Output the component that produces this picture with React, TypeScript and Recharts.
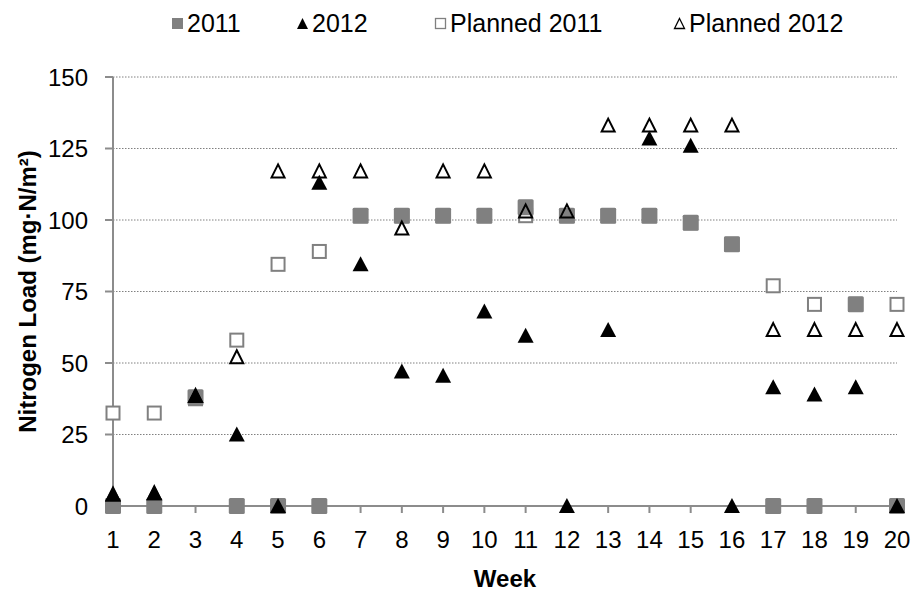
import React from 'react';
import {
  ScatterChart,
  Scatter,
  XAxis,
  YAxis,
  CartesianGrid,
  Label
} from 'recharts';

const WEEKS = [1, 2, 3, 4, 5, 6, 7, 8, 9, 10, 11, 12, 13, 14, 15, 16, 17, 18, 19, 20];
const LOAD_2011 = [0, 0, 38, 0, 0, 0, 101.5, 101.5, 101.5, 101.5, 104.5, 101.5, 101.5, 101.5, 99, 91.5, 0, 0, 70.5, 0];
const LOAD_2012 = [4, 4.5, 38.5, 25, 0, 113, 84.5, 47, 45.5, 68, 59.5, 0, 61.5, 128.5, 126, 0, 41.5, 39, 41.5, 0];
const PLANNED_2011 = [32.5, 32.5, 37.5, 58, 84.5, 89, 101.5, 101.5, 101.5, 101.5, 101.5, 101.5, 101.5, 101.5, 99, 91.5, 77, 70.5, 70.5, 70.5];
const PLANNED_2012 = [4, 4.5, 38.5, 52, 117, 117, 117, 97, 117, 117, 103, 103, 133, 133, 133, 133, 61.5, 61.5, 61.5, 61.5];
const Y_TICKS = [0, 25, 50, 75, 100, 125, 150];

const GRAY = '#808080';
const AXIS = '#8c8c8c';
const FONT = 'Arial, "Liberation Sans", sans-serif';

const toPoints = (vals: number[]) => WEEKS.map((w, i) => ({ week: w, load: vals[i] }));

function FilledSquare({ cx, cy }: any) {
  return <rect x={cx - 8} y={cy - 8} width={16} height={16} rx={1.5} fill={GRAY} />;
}

function HollowSquare({ cx, cy }: any) {
  return <rect x={cx - 6.5} y={cy - 6.5} width={13} height={13} fill="#fff" stroke={GRAY} strokeWidth={2} />;
}

function FilledTriangle({ cx, cy }: any) {
  return <polygon points={`${cx},${cy - 8} ${cx + 8},${cy + 7} ${cx - 8},${cy + 7}`} fill="#000" />;
}

function HollowTriangle({ cx, cy }: any) {
  return (
    <polygon
      points={`${cx},${cy - 7} ${cx + 6.5},${cy + 6} ${cx - 6.5},${cy + 6}`}
      fill="none"
      stroke="#000"
      strokeWidth={2}
    />
  );
}

// legend sits over the chart so it doesn't push the plot area down
const LEGEND_ITEMS = [
  { label: '2011', left: 171, icon: <rect x={1} y={1} width={11} height={11} fill={GRAY} /> },
  { label: '2012', left: 296, icon: <polygon points="6.5,1 12,12 1,12" fill="#000" /> },
  { label: 'Planned 2011', left: 434, icon: <rect x={1.5} y={1.5} width={10} height={10} fill="none" stroke={GRAY} strokeWidth={1.3} /> },
  { label: 'Planned 2012', left: 673, icon: <polygon points="6.5,1.5 11.5,11.5 1.5,11.5" fill="none" stroke="#000" strokeWidth={1.3} /> }
];

function TopLegend() {
  return (
    <div style={{ position: 'absolute', left: 0, top: 0, width: 912, height: 44, fontFamily: FONT }}>
      {LEGEND_ITEMS.map((item) => (
        <div
          key={item.label}
          style={{ position: 'absolute', left: item.left, top: 8, display: 'flex', alignItems: 'center', fontSize: 25, color: '#000', lineHeight: '30px', whiteSpace: 'nowrap' }}
        >
          <svg width={13} height={13} style={{ marginRight: 3 }}>{item.icon}</svg>
          <span>{item.label}</span>
        </div>
      ))}
    </div>
  );
}

export default function App() {
  return (
    <div style={{ position: 'absolute', left: 0, top: 0, width: 912, height: 593, background: '#fff' }}>
      <ScatterChart width={912} height={593} margin={{ top: 77, right: 15, bottom: 0, left: 13 }}>
        <CartesianGrid horizontal={true} vertical={false} stroke={GRAY} strokeDasharray="1.5 1.5" />
        <XAxis
          type="number"
          dataKey="week"
          domain={[1, 20]}
          ticks={WEEKS}
          interval={0}
          allowDecimals={false}
          stroke={AXIS}
          strokeWidth={2}
          tickSize={7}
          tickMargin={18}
          height={87}
          tick={{ fill: '#000', fontSize: 24, fontFamily: FONT }}
        >
          <Label value="Week" position="insideBottom" offset={6} style={{ fill: '#000', fontSize: 24, fontWeight: 700, fontFamily: FONT }} />
        </XAxis>
        <YAxis
          type="number"
          dataKey="load"
          domain={[0, 150]}
          ticks={Y_TICKS}
          interval={0}
          stroke={AXIS}
          strokeWidth={2}
          tickSize={8}
          tickMargin={17}
          width={100}
          tick={{ fill: '#000', fontSize: 24, fontFamily: FONT }}
        >
          <Label
            value="Nitrogen Load (mg·N/m²)"
            angle={-90}
            position="insideLeft"
            offset={0}
            dx={14}
            style={{ textAnchor: 'middle', fill: '#000', fontSize: 24, fontWeight: 700, fontFamily: FONT }}
          />
        </YAxis>
        <Scatter name="Planned 2011" data={toPoints(PLANNED_2011)} shape={<HollowSquare />} isAnimationActive={false} />
        <Scatter name="2011" data={toPoints(LOAD_2011)} shape={<FilledSquare />} isAnimationActive={false} />
        <Scatter name="2012" data={toPoints(LOAD_2012)} shape={<FilledTriangle />} isAnimationActive={false} />
        <Scatter name="Planned 2012" data={toPoints(PLANNED_2012)} shape={<HollowTriangle />} isAnimationActive={false} />
      </ScatterChart>
      <TopLegend />
    </div>
  );
}
